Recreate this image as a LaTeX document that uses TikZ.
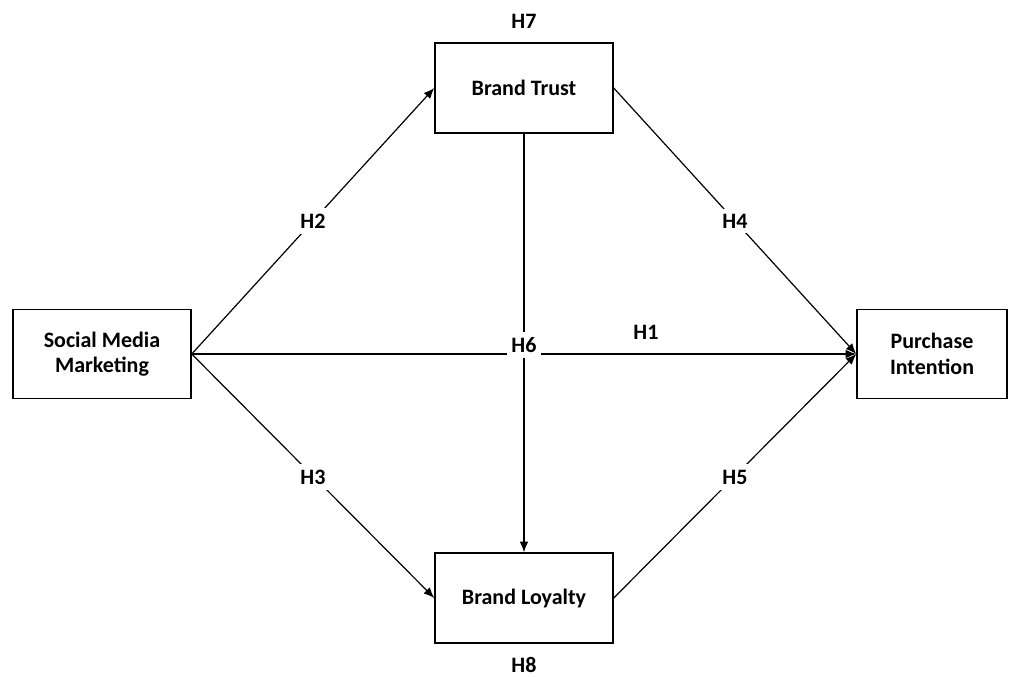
\documentclass[tikz,border=0pt]{standalone}
\usepackage{fontspec}
\setmainfont{Carlito}
\usepackage{tikz}
\usetikzlibrary{arrows.meta,positioning}
\tikzset{
  construct/.style={rectangle, draw=black, line width=1.1pt, fill=white, align=center, font=\fontsize{16.5}{19}\selectfont\bfseries},
  hyp/.style={font=\fontsize{16.5}{19}\selectfont\bfseries, inner sep=1pt},
  hypcut/.style={hyp, fill=white, inner xsep=3pt, inner ysep=4pt},
  path/.style={line width=0.9pt, -{Latex[length=8pt,width=6.5pt]}}
}
\begin{document}
\begin{tikzpicture}[x=0.75pt,y=-0.75pt]
  \useasboundingbox (0,0) rectangle (1021,676);
  % Constructs
  \node[construct, minimum width=133.5pt, minimum height=67pt] (smm) at (102,354) {Social Media\\Marketing};
  \node[construct, minimum width=133.5pt, minimum height=67.5pt] (bt) at (524,88) {Brand Trust};
  \node[construct, minimum width=133.5pt, minimum height=67.5pt] (bl) at (524,598) {Brand Loyalty};
  \node[construct, minimum width=112.5pt, minimum height=67pt] (pi) at (932,354) {Purchase\\Intention};

  % Paths
  \draw[path] (smm.east) -- (bt.west);
  \draw[path] (smm.east) -- (pi.west);
  \draw[path] (smm.east) -- (bl.west);
  \draw[path] (bt.east) -- (pi.west);
  \draw[path] (bl.east) -- (pi.west);
  \draw[path] (bt.south) -- (bl.north);

  % Hypotheses
  \node[hyp] (h1) at (646,332) {H1};
  \node[hypcut] (h2) at (313,221) {H2};
  \node[hypcut] (h3) at (313,477) {H3};
  \node[hypcut] (h4) at (735,221) {H4};
  \node[hypcut] (h5) at (735,477) {H5};
  \node[hypcut] (h6) at (524,345) {H6};
  \node[hyp] (h7) at (524,21) {H7};
  \node[hyp, inner sep=0pt] (h8) at (524,665) {H8};
\end{tikzpicture}
\end{document}
